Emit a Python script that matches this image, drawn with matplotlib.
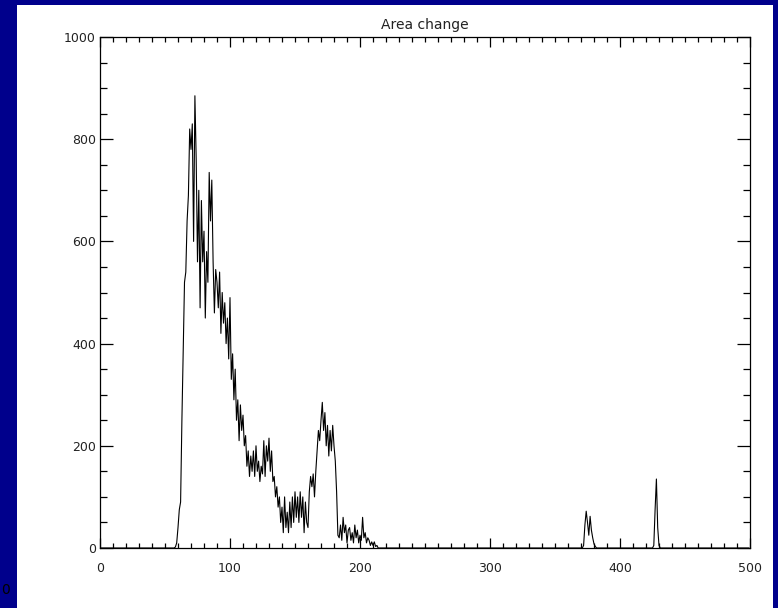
import numpy as np
import matplotlib.pyplot as plt
from matplotlib.patches import Rectangle
from matplotlib.ticker import MultipleLocator

# main burst, one value per x starting at main_start
main_start = 55
main_vals = [0, 0, 0, 2, 10, 40, 75, 90, 250, 380,
             520, 540, 640, 690, 820, 780, 830, 600, 885, 760,
             560, 700, 470, 680, 560, 620, 450, 580, 520, 735,
             640, 720, 560, 460, 545, 520, 470, 540, 420, 500,
             440, 480, 400, 450, 370, 490, 330, 380, 290, 350,
             250, 290, 210, 280, 230, 260, 200, 220, 160, 190,
             140, 180, 150, 190, 140, 200, 150, 170, 130, 160,
             145, 210, 140, 200, 170, 215, 150, 190, 130, 140,
             100, 120, 80, 100, 50, 80, 30, 100, 40, 70,
             30, 90, 40, 100, 50, 110, 60, 100, 50, 110,
             60, 100, 30, 90, 50,
             40, 110, 140, 120, 145, 100, 150, 190, 230, 210,
             250, 285, 230, 265, 200, 240, 180, 230, 190, 240,
             200, 170, 110, 25, 20, 45, 15, 60, 30, 45,
             10, 35, 40, 15, 30, 10, 45, 20, 35, 10,
             25, 15, 60, 20, 30, 10, 20, 15, 5, 12,
             5, 12, 3, 5, 0]

# small bursts further right
spike1_start = 371
spike1_vals = [0, 5, 45, 72, 50, 25, 62, 35, 20, 8, 3, 0]
spike2_start = 425
spike2_vals = [0, 5, 75, 135, 40, 5, 0]

n = 500
area = np.zeros(n)
area[main_start:main_start + len(main_vals)] = main_vals
area[spike1_start:spike1_start + len(spike1_vals)] = spike1_vals
area[spike2_start:spike2_start + len(spike2_vals)] = spike2_vals
x = np.arange(n)

W, H = 778, 608
fig = plt.figure(figsize=(W / 100, H / 100), dpi=100)
fig.patch.set_facecolor('#00008c')
# white page inside the blue frame
fig.patches.append(Rectangle((17 / W, 0), (773 - 17) / W, (H - 5) / H,
                             transform=fig.transFigure, facecolor='white',
                             edgecolor='none', zorder=-10))

ax = fig.add_axes([100 / W, 1 - 548 / H, 650 / W, (548 - 37) / H])
ax.set_zorder(5)
ax.set_facecolor('white')
ax.plot(x, area, color='black', lw=0.8)

ax.set_xlim(0, 500)
ax.set_ylim(0, 1000)
ax.xaxis.set_major_locator(MultipleLocator(100))
ax.xaxis.set_minor_locator(MultipleLocator(10))
ax.yaxis.set_major_locator(MultipleLocator(200))
ax.yaxis.set_minor_locator(MultipleLocator(50))

txt = '#222222'
ax.tick_params(axis='x', which='major', direction='in', length=7, width=0.9,
               top=True, pad=10, labelsize=9, labelcolor=txt)
ax.tick_params(axis='x', which='minor', direction='in', length=3.6, width=0.9,
               top=True)
ax.tick_params(axis='y', which='major', direction='in', length=9.5, width=0.9,
               right=True, pad=3, labelsize=9, labelcolor=txt)
ax.tick_params(axis='y', which='minor', direction='in', length=5, width=0.9,
               right=True)
for s in ax.spines.values():
    s.set_linewidth(0.9)

ax.set_title('Area change', fontsize=10, color=txt, pad=6)

# stray glyph at the lower left edge
fig.text(1 / W, 1 - 590 / H, '0', color='black', fontsize=10,
         va='center', ha='left')

fig.savefig('out.png', dpi=100, facecolor=fig.get_facecolor())
